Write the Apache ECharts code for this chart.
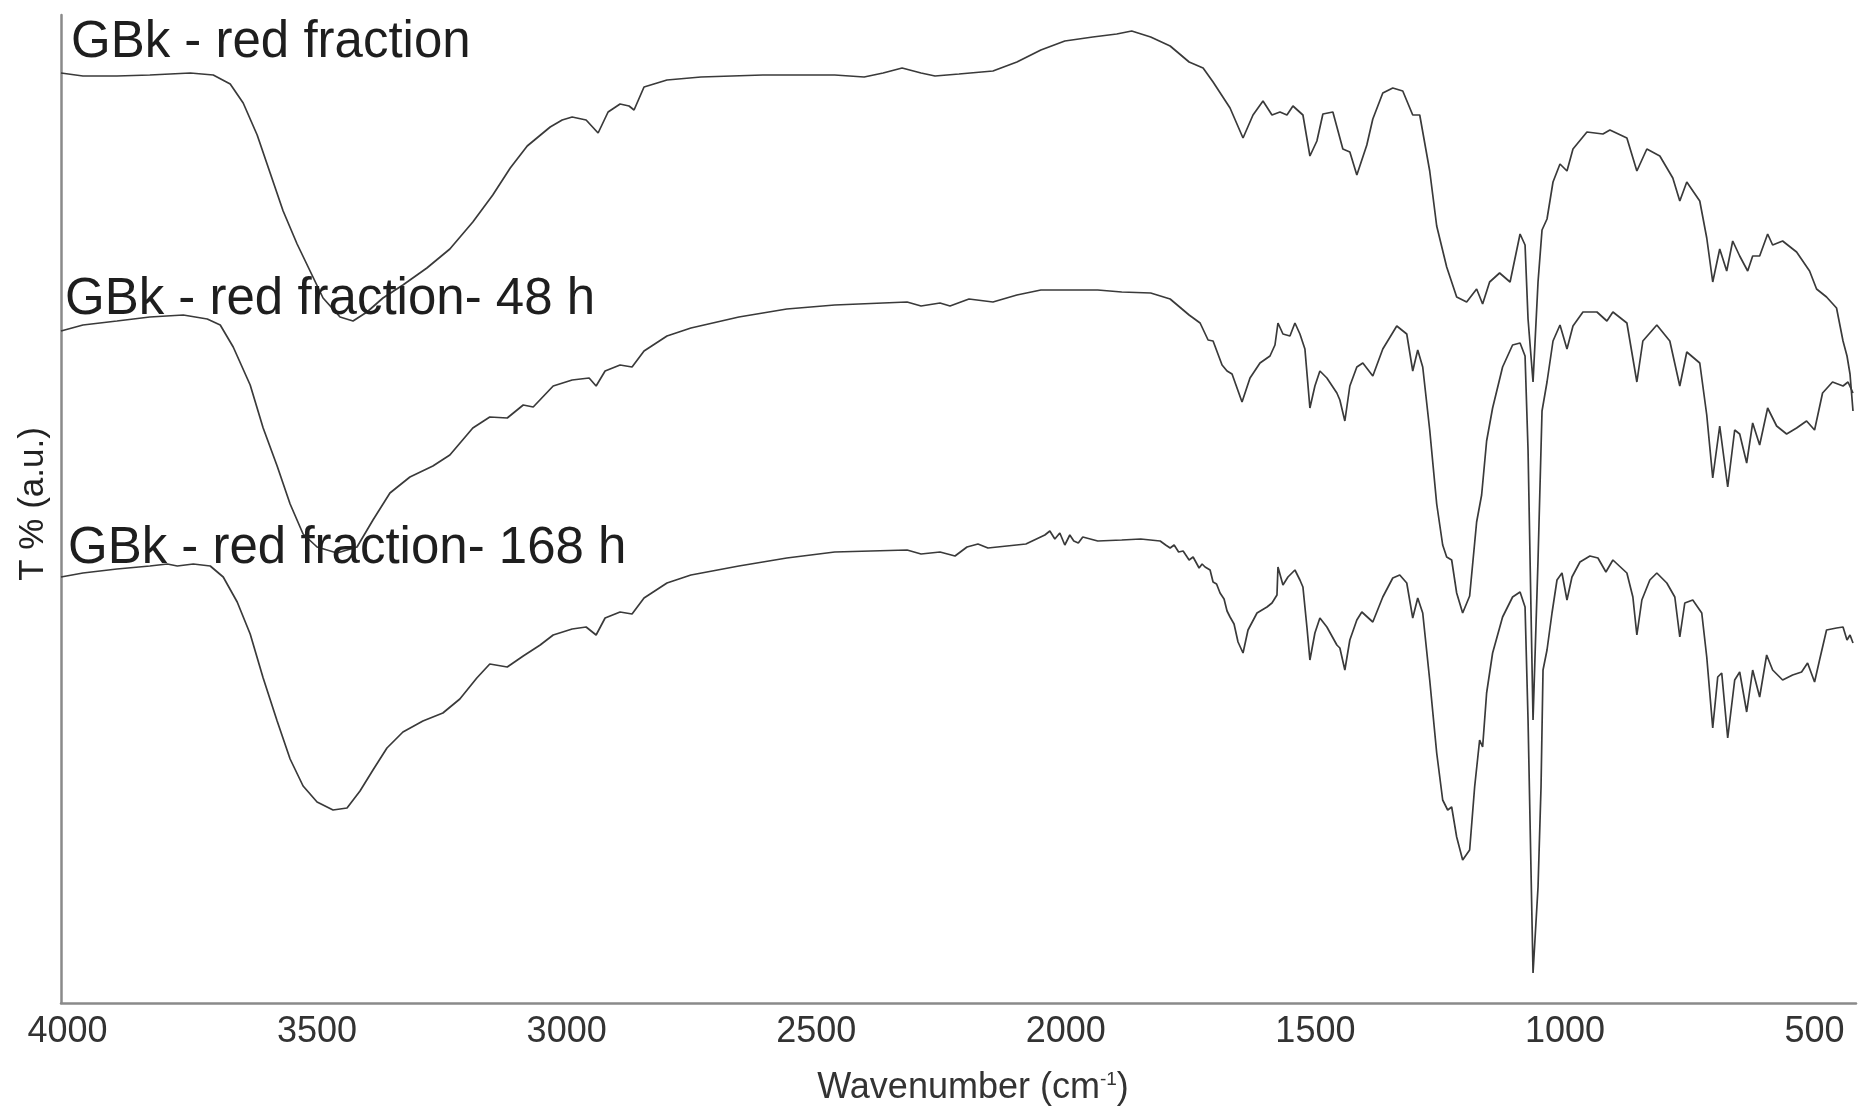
<!DOCTYPE html>
<html>
<head>
<meta charset="utf-8">
<title>FTIR spectra – GBk red fraction</title>
<script src="https://cdn.jsdelivr.net/npm/echarts@6/dist/echarts.min.js"></script>
<style>
  html, body { margin: 0; padding: 0; background: #ffffff; }
  #chart { width: 1860px; height: 1112px; }
</style>
</head>
<body>
<div id="chart"></div>
<script>
// FTIR transmittance spectra (arbitrary units, curves stacked with offsets)

// --- GBk - red fraction ---
const wnRed = [4013,3969,3901,3835,3754,3708,3674,3648,3620,3594,
  3568,3540,3514,3488,3454,3428,3400,3368,3328,3280,
  3234,3188,3148,3113,3079,3033,3009,2989,2961,2937,
  2917,2893,2875,2865,2845,2799,2731,2607,2463,2404,
  2366,2328,2290,2262,2214,2146,2098,2050,2002,1946,
  1898,1868,1830,1791,1753,1725,1705,1671,1645,1625,
  1605,1587,1571,1557,1545,1525,1511,1497,1485,1465,
  1445,1431,1417,1397,1385,1365,1345,1325,1305,1291,
  1271,1257,1237,1217,1197,1177,1165,1151,1131,1110,
  1090,1080,1074,1064,1054,1046,1036,1024,1010,996,
  984,956,924,910,876,856,836,810,784,770,
  756,730,716,704,690,676,664,650,634,624,
  610,594,584,564,536,510,496,476,456,443,
  435,429,423];
const tRed = [930,927,927,928,930,928,919,900,868,830,
  792,759,732,705,686,682,691,705,718,735,
  754,781,808,835,857,876,883,886,883,870,
  891,899,897,893,916,923,926,928,928,926,
  930,935,930,927,929,932,941,953,962,966,
  969,972,966,957,941,935,921,895,865,888,
  902,888,891,888,897,888,847,862,889,891,
  854,851,828,858,884,910,915,912,888,888,
  832,777,736,706,701,714,699,721,730,721,
  769,758,684,621,721,773,784,821,839,832,
  854,871,869,873,865,832,854,847,825,802,
  821,802,765,721,754,732,762,747,732,747,
  747,769,758,762,751,732,714,706,695,662,
  647,629,592];

// --- GBk - red fraction- 48 h ---
const wn48 = [4013,3969,3901,3835,3768,3720,3694,3668,3634,3608,
  3580,3554,3528,3500,3460,3420,3388,3354,3314,3268,
  3234,3188,3154,3119,3087,3067,3027,2989,2955,2941,
  2923,2893,2869,2845,2799,2751,2655,2559,2463,2318,
  2290,2252,2232,2194,2146,2098,2050,1984,1936,1888,
  1830,1791,1753,1731,1715,1705,1687,1677,1667,1647,
  1631,1611,1591,1581,1575,1565,1551,1541,1531,1521,
  1511,1501,1491,1477,1457,1451,1441,1431,1417,1405,
  1385,1365,1337,1317,1305,1295,1285,1271,1257,1245,
  1237,1227,1217,1205,1191,1177,1167,1157,1145,1125,
  1105,1090,1080,1074,1064,1054,1046,1036,1024,1010,
  996,984,964,936,916,904,876,856,844,816,
  790,770,756,730,716,704,690,674,660,650,
  636,624,610,594,576,556,536,516,500,484,
  464,443,433,423];
const t48 = [672,678,682,686,688,684,678,656,618,575,
  537,499,469,456,450,456,483,510,526,537,
  548,575,586,585,598,596,617,623,625,617,
  632,638,636,652,667,675,686,694,698,701,
  697,700,697,704,701,708,713,713,713,711,
  710,704,688,680,663,662,638,632,629,601,
  625,640,647,658,680,669,667,680,669,654,
  595,617,632,625,610,603,582,617,636,640,
  627,654,677,669,632,653,636,573,499,458,
  446,443,410,390,407,481,508,562,595,636,
  658,660,647,553,283,443,592,621,662,678,
  654,677,691,691,682,691,680,621,662,678,
  662,617,651,640,588,525,577,516,573,569,
  540,580,558,595,577,569,575,582,573,610,
  621,617,621,610];

// --- GBk - red fraction- 168 h ---
const wn168 = [4013,3969,3901,3835,3800,3780,3748,3714,3688,3660,
  3634,3608,3580,3554,3528,3500,3468,3440,3414,3388,
  3360,3328,3288,3248,3214,3180,3154,3119,3087,3053,
  3027,2989,2961,2941,2923,2893,2869,2845,2799,2751,
  2655,2559,2463,2318,2290,2252,2222,2198,2176,2156,
  2118,2080,2042,2032,2022,2012,2002,1992,1984,1975,
  1966,1936,1888,1850,1811,1800,1791,1783,1774,1765,
  1753,1745,1733,1727,1721,1711,1705,1698,1691,1683,
  1677,1671,1663,1655,1645,1635,1617,1597,1587,1577,
  1575,1565,1555,1541,1531,1525,1517,1511,1501,1491,
  1477,1457,1451,1441,1431,1417,1407,1385,1365,1345,
  1331,1317,1305,1295,1285,1271,1257,1245,1235,1227,
  1217,1205,1191,1181,1171,1165,1157,1145,1125,1105,
  1090,1080,1074,1064,1054,1048,1044,1036,1026,1016,
  1006,996,986,970,950,934,918,904,876,864,
  856,846,830,816,796,780,770,760,744,726,
  716,704,694,686,674,660,650,636,624,610,
  596,584,564,544,526,514,500,490,476,456,
  443,435,429,423];
const t168 = [426,430,434,437,439,437,439,437,426,401,
  369,325,282,244,217,201,193,195,212,233,
  255,271,282,290,304,325,339,336,347,358,
  368,374,376,368,385,391,389,405,420,428,
  437,445,451,453,449,451,447,456,459,455,
  457,459,468,472,464,470,458,468,462,460,
  466,462,463,464,462,458,455,458,451,452,
  443,446,435,439,436,433,421,419,410,404,
  392,386,379,361,350,373,390,396,400,408,
  436,418,426,433,423,416,376,343,370,385,
  376,358,355,333,363,383,391,381,406,425,
  428,420,385,405,390,323,250,203,193,196,
  166,143,153,216,263,256,310,350,386,406,
  411,396,283,30,116,216,333,353,390,423,
  430,403,426,441,447,445,431,443,430,406,
  368,403,423,430,420,406,366,400,403,390,
  346,275,326,330,265,323,331,291,333,306,
  348,333,323,328,331,340,321,343,373,375,
  376,363,368,360];

const wnTicks = [4000, 3500, 3000, 2500, 2000, 1500, 1000, 500];
const seriesNames = ['GBk - red fraction', 'GBk - red fraction- 48 h', 'GBk - red fraction- 168 h'];

function pairs(wn, t) {
  return wn.map(function (w, i) { return [w, t[i]]; });
}

const FONT = '"Liberation Sans", Arial, Helvetica, sans-serif';
const AXIS_GRAY = '#8a8a8a';
const LINE_COLOR = '#3a3a3a';

const spectra = [pairs(wnRed, tRed), pairs(wn48, t48), pairs(wn168, t168)];
const labelPos = [[71, 43], [65, 300], [68, 549]];

const chart = echarts.init(document.getElementById('chart'), null, { renderer: 'canvas' });

chart.setOption({
  animation: false,
  backgroundColor: '#ffffff',
  grid: { left: 61, right: 4, top: 15, bottom: 109, containLabel: false },
  xAxis: {
    type: 'value',
    inverse: true,
    min: 417,
    max: 4013,
    axisLine: { show: true, onZero: false, lineStyle: { color: AXIS_GRAY, width: 2.5 } },
    axisTick: { show: false },
    splitLine: { show: false },
    axisLabel: {
      customValues: wnTicks,
      formatter: function (v) { return String(v); },
      fontSize: 36,
      fontFamily: FONT,
      color: '#333333',
      margin: 11
    }
  },
  yAxis: {
    type: 'value',
    min: 0,
    max: 988,
    axisLine: { show: true, onZero: false, lineStyle: { color: AXIS_GRAY, width: 2.5 } },
    axisTick: { show: false },
    axisLabel: { show: false },
    splitLine: { show: false }
  },
  series: spectra.map(function (d, i) {
    return {
      name: seriesNames[i],
      type: 'line',
      data: d,
      showSymbol: false,
      symbol: 'none',
      smooth: false,
      lineStyle: { color: LINE_COLOR, width: 1.7 },
      emphasis: { disabled: true },
      z: 2
    };
  }),
  graphic: seriesNames.map(function (name, i) {
    return {
      type: 'text',
      z: 100,
      x: labelPos[i][0],
      y: labelPos[i][1],
      style: {
        text: name,
        fontSize: 51,
        fontFamily: FONT,
        fill: '#1e1e1e',
        align: 'left',
        verticalAlign: 'middle'
      }
    };
  }).concat([
    {
      type: 'text',
      z: 100,
      x: 33,
      y: 504,
      rotation: Math.PI / 2,
      style: {
        text: 'T % (a.u.)',
        fontSize: 35,
        fontFamily: FONT,
        fill: '#222222',
        align: 'center',
        verticalAlign: 'middle'
      }
    },
    {
      type: 'text',
      z: 100,
      x: 973,
      y: 1088,
      style: {
        text: '{n|Wavenumber (cm}{s|-1}{n|)}',
        align: 'center',
        verticalAlign: 'middle',
        rich: {
          n: { fontSize: 36, fontFamily: FONT, fill: '#333333', color: '#333333' },
          s: { fontSize: 19, fontFamily: FONT, fill: '#333333', color: '#333333', verticalAlign: 'top' }
        }
      }
    }
  ])
});
</script>
</body>
</html>
